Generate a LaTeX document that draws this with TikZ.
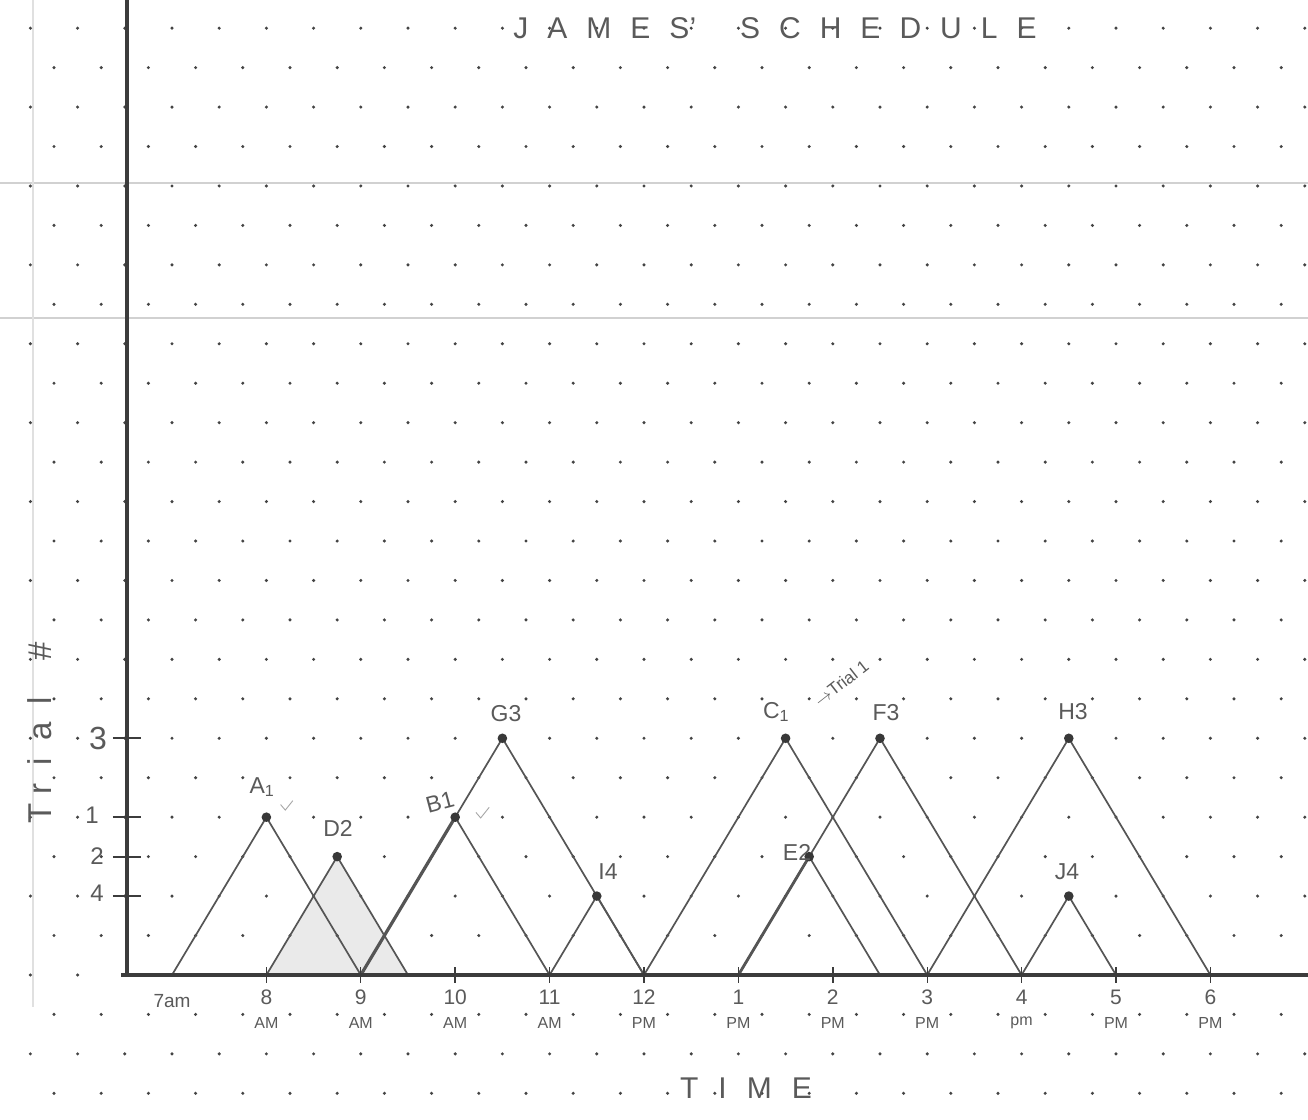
\documentclass[tikz,border=0pt]{standalone}
\usepackage{fontspec}
\setmainfont{Liberation Sans}
\definecolor{ink}{HTML}{555555}
\definecolor{pen}{HTML}{5A5A5A}
\definecolor{dotc}{HTML}{444444}
\definecolor{shadec}{HTML}{EAEAEA}
\definecolor{axisc}{HTML}{3C3C3C}
\newcommand\lgap{\hspace{19pt}}
\newcommand\tgap{\hspace{20pt}}
\begin{document}
\begin{tikzpicture}[x={(94.4pt,0pt)},y={(0pt,39.45pt)},
  tri/.style={draw=ink,line width=1.7pt,line join=miter},
  axisline/.style={draw=axisc,line width=3.6pt},
  tickline/.style={draw=axisc,line width=1.8pt},
  peakdot/.style={fill=black!78},
  plabel/.style={text=pen,font=\fontsize{23}{25}\selectfont,inner sep=0pt},
  ylab/.style={text=pen,font=\fontsize{24}{26}\selectfont,inner sep=0pt},
  hnum/.style={text=pen,font=\fontsize{21}{22}\selectfont,inner sep=0pt},
  hsub/.style={text=pen,font=\fontsize{16}{18}\selectfont,inner sep=0pt},
  bigtext/.style={text=pen,font=\fontsize{30}{34}\selectfont,inner sep=0pt},
  scanline/.style={draw=black!18,line width=1.4pt}]
\useasboundingbox (-1.8220,-3.6755) rectangle (12.034,24.7148);
\fill[white] (-1.8220,-3.6755) rectangle (12.034,24.7148);
% scan artefacts
\coordinate (sL1) at (-1.822,20.08); \coordinate (sR1) at (12.034,20.08);
\coordinate (sL2) at (-1.822,16.65); \coordinate (sR2) at (12.034,16.65);
\draw[scanline] (sL1) -- (sR1);
\draw[scanline] (sL2) -- (sR2);
\coordinate (vT) at (-1.472,24.71); \coordinate (vB) at (-1.472,-0.8);
\draw[draw=black!12,line width=1.2pt] (vT) -- (vB);
% base points (hours after 7am)
\coordinate (h0) at (0,0);
\coordinate (h1) at (1,0);
\coordinate (h2) at (2,0);
\coordinate (h2h) at (2.5,0);
\coordinate (h4) at (4,0);
\coordinate (h5) at (5,0);
\coordinate (h6) at (6,0);
\coordinate (h7h) at (7.5,0);
\coordinate (h8) at (8,0);
\coordinate (h9) at (9,0);
\coordinate (h10) at (10,0);
\coordinate (h11) at (11,0);
% peaks
\coordinate (A1) at (1,4);
\coordinate (D2) at (1.75,3);
\coordinate (B1) at (3,4);
\coordinate (G3) at (3.5,6);
\coordinate (I4) at (4.5,2);
\coordinate (C1) at (6.5,6);
\coordinate (E2) at (6.75,3);
\coordinate (F3) at (7.5,6);
\coordinate (H3) at (9.5,6);
\coordinate (J4) at (9.5,2);
% shaded D2 triangle
\fill[shadec] (h1) -- (D2) -- (h2h) -- cycle;
% dot grid
\foreach \r in {-3,...,24}{
  \pgfmathsetmacro\off{mod(\r+30,2)*0.25}
  \foreach \k in {-3,...,24}{
    \fill[dotc] ({\k*0.5+\off},\r) circle[radius=1.7pt];
  }
}
% triangles
\draw[tri] (h0) -- (A1) -- (h2);
\draw[tri] (h1) -- (D2) -- (h2h);
\draw[tri] (h2) -- (B1) -- (h4);
\draw[tri] (h2) -- (G3) -- (h5);
\draw[tri] (h4) -- (I4) -- (h5);
\draw[tri] (h5) -- (C1) -- (h8);
\draw[tri] (h6) -- (E2) -- (h7h);
\draw[tri] (h6) -- (F3) -- (h9);
\draw[tri] (h8) -- (H3) -- (h11);
\draw[tri] (h9) -- (J4) -- (h10);
\draw[tri,line width=3.2pt] (h2) -- (B1);
\draw[tri,line width=2.8pt] (h6) -- (E2);
% peak dots
\foreach \p in {A1,D2,B1,G3,I4,C1,E2,F3,H3,J4}{
  \fill[peakdot] (\p) circle[radius=4.8pt];
}
% axes
\coordinate (yTop) at (-0.477,24.72);
\coordinate (yBot) at (-0.477,-0.05);
\coordinate (xL) at (-0.54,0);
\coordinate (xR) at (12.04,0);
\draw[axisline] (yTop) -- (yBot);
\draw[axisline] (xL) -- (xR);
\foreach \r in {2,3,4,6}{
  \coordinate (ta\r) at (-0.625,\r);
  \coordinate (tb\r) at (-0.33,\r);
  \draw[tickline] (ta\r) -- (tb\r);
}
\foreach \h in {1,...,11}{
  \coordinate (xa\h) at (\h,-0.2);
  \coordinate (xb\h) at (\h,0.2);
  \draw[tickline,line width=1.4pt] (xa\h) -- (xb\h);
}
% y labels
\node[ylab,font=\fontsize{32}{34}\selectfont] (y3) at (-0.784,6.0) {3};
\node[ylab] (y1) at (-0.847,4.06) {1};
\node[ylab] (y2) at (-0.794,3.02) {2};
\node[ylab] (y4) at (-0.794,2.08) {4};
\node[bigtext,rotate=90,font=\fontsize{33}{34}\selectfont] (ytitle) at (-1.398,6.14) {T\hspace{8pt}r\hspace{18pt}i\hspace{18pt}a\hspace{18pt}l\hspace{36pt}\#};
% x labels
\node[hnum,font=\fontsize{19}{20}\selectfont] (n0) at (0,-0.65) {7am};
\foreach \h/\n/\s in {1/8/AM,2/9/AM,3/10/AM,4/11/AM,5/12/PM,6/1/PM,7/2/PM,8/3/PM,9/4/pm,10/5/PM,11/6/PM}{
  \node[hnum] (n\h) at (\h,-0.56) {\n};
  \node[hsub] (s\h) at (\h,-1.22) {\s};
}
\node[bigtext] (xtitle) at (6.08,-2.86) {T\tgap I\tgap M\tgap E};
% title
\node[bigtext] (title) at (6.388,24.0) {J\lgap A\lgap M\lgap E\lgap S'\hspace{44pt}S\lgap C\lgap H\lgap E\lgap D\lgap U\lgap L\lgap E};
% peak labels
\node[plabel] (lA1) at (0.953,4.766) {A\textsubscript{1}};
\node[plabel] (lD2) at (1.758,3.726) {D2};
\node[plabel,rotate=15] (lB1) at (2.839,4.385) {B1};
\node[plabel] (lG3) at (3.538,6.616) {G3};
\node[plabel] (lI4) at (4.619,2.611) {I4};
\node[plabel] (lC1) at (6.40,6.667) {C\textsubscript{1}};
\node[plabel,rotate=38,font=\fontsize{17}{18}\selectfont] (lT1) at (7.09,7.40) {$\rightarrow$Trial 1};
\node[plabel] (lF3) at (7.564,6.642) {F3};
\node[plabel] (lE2) at (6.621,3.118) {E2};
\node[plabel] (lH3) at (9.544,6.667) {H3};
\node[plabel] (lJ4) at (9.481,2.61) {J4};
% check marks
\coordinate (ca1) at (1.15,4.32); \coordinate (ca2) at (1.20,4.18); \coordinate (ca3) at (1.28,4.42);
\draw[draw=black!35,line width=0.9pt] (ca1) -- (ca2) -- (ca3);
\coordinate (cb1) at (3.22,4.12); \coordinate (cb2) at (3.27,3.98); \coordinate (cb3) at (3.36,4.25);
\draw[draw=black!35,line width=0.9pt] (cb1) -- (cb2) -- (cb3);
\end{tikzpicture}
\end{document}
